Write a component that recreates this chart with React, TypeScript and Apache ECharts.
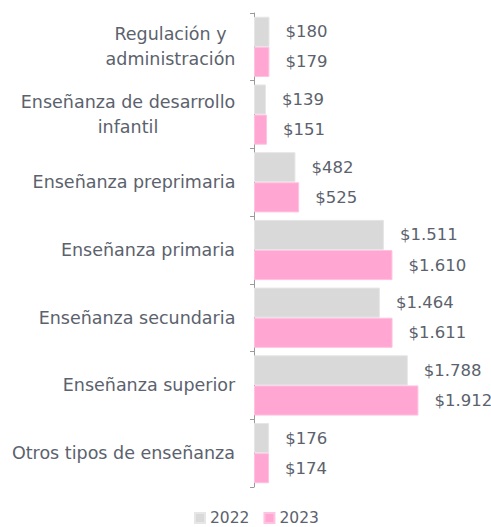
import React, { useEffect, useRef } from "react";
import * as echarts from "echarts";

const categories = [
  "Regulación y\nadministración",
  "Enseñanza de desarrollo\ninfantil",
  "Enseñanza preprimaria",
  "Enseñanza primaria",
  "Enseñanza secundaria",
  "Enseñanza superior",
  "Otros tipos de enseñanza",
];
const values2022 = [180, 139, 482, 1511, 1464, 1788, 176];
const values2023 = [179, 151, 525, 1610, 1611, 1912, 174];
const seriesNames = ["2022", "2023"];

const FONT = "DejaVu Sans";
const TEXT = "#5b626d";
const CAT_SIZE = 17.5;

const fmt = (v: number) => "$" + v.toString().replace(/\B(?=(\d{3})+(?!\d))/g, ".");

function measure(text: string, size: number): number {
  const c = document.createElement("canvas").getContext("2d");
  if (!c) return text.length * size * 0.6;
  c.font = `${size}px "${FONT}"`;
  return c.measureText(text).width;
}

export default function App() {
  const ref = useRef<HTMLDivElement>(null);
  useEffect(() => {
    if (!ref.current) return;
    const chart = echarts.init(ref.current, null, { renderer: "svg" });
    const rich: Record<string, any> = {};
    categories.forEach((c, i) => {
      const lines = c.split("\n");
      const w = Math.max(...lines.map((l) => measure(l, CAT_SIZE)));
      rich["c" + i] = {
        width: Math.ceil(w) + 1,
        align: "center",
        color: TEXT,
        fontSize: CAT_SIZE,
        fontFamily: FONT,
        lineHeight: 25,
      };
    });
    const label = {
      show: true,
      position: "right" as const,
      distance: 16,
      color: TEXT,
      fontFamily: FONT,
      fontSize: 16.5,
      formatter: (p: any) => fmt(p.value),
    };
    chart.setOption({
      animation: false,
      textStyle: { fontFamily: FONT },
      grid: { left: 254, right: 22, top: 13, bottom: 40, containLabel: false },
      legend: {
        bottom: 1,
        left: 194,
        padding: 0,
        itemWidth: 10,
        itemHeight: 10,
        itemGap: 14,
        icon: "rect",
        textStyle: { color: TEXT, fontSize: 15.5, fontFamily: FONT },
        data: seriesNames,
      },
      xAxis: {
        type: "value",
        min: 0,
        max: 2500,
        show: false,
        splitLine: { show: false },
      },
      yAxis: {
        type: "category",
        inverse: true,
        data: categories,
        axisLine: { show: true, lineStyle: { color: "#9a9a9a", width: 1 } },
        axisTick: { show: true, length: 4, lineStyle: { color: "#9a9a9a" } },
        axisLabel: {
          color: TEXT,
          fontSize: CAT_SIZE,
          fontFamily: FONT,
          margin: 18,
          lineHeight: 25,
          align: "right",
          formatter: (v: string, i: number) =>
            v
              .split("\n")
              .map((l) => `{c${i}|${l}}`)
              .join("\n"),
          rich,
        },
      },
      series: [
        {
          name: seriesNames[0],
          type: "bar",
          data: values2022,
          barGap: "0%",
          barCategoryGap: "11%",
          itemStyle: { color: "#d9d9d9", borderColor: "#e6e6e6", borderWidth: 1 },
          label,
        },
        {
          name: seriesNames[1],
          type: "bar",
          data: values2023,
          itemStyle: { color: "#ffa6d2", borderColor: "#ffc2e0", borderWidth: 1 },
          label,
        },
      ],
    });
    return () => chart.dispose();
  }, []);
  return <div ref={ref} style={{ width: 491, height: 527, position: "absolute", left: 0, top: 0 }} />;
}
